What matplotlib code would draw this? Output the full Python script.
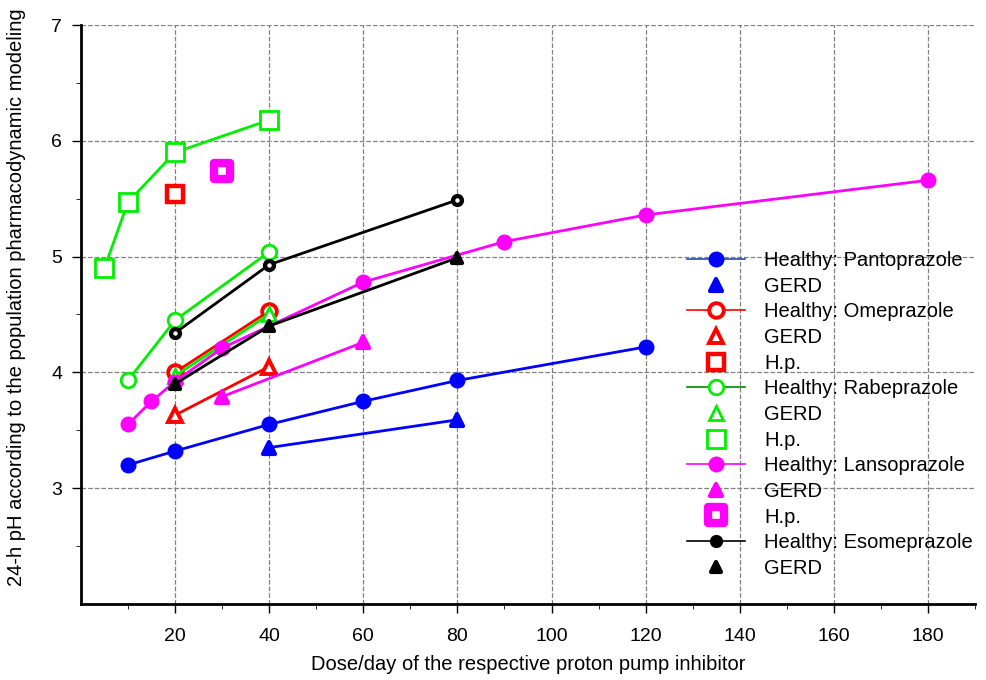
import matplotlib
matplotlib.use('Agg')
import matplotlib.pyplot as plt
from matplotlib.lines import Line2D
from matplotlib.markers import MarkerStyle

plt.rcParams['font.family'] = ['Liberation Sans', 'DejaVu Sans']

# Pantoprazole
panto_x = [10, 20, 40, 60, 80, 120]
panto_y = [3.2, 3.32, 3.55, 3.75, 3.93, 4.22]
panto_gerd_x = [40, 80]
panto_gerd_y = [3.35, 3.59]
# Omeprazole
ome_x = [20, 40]
ome_y = [4.0, 4.53]
ome_gerd_x = [20, 40]
ome_gerd_y = [3.63, 4.05]
ome_hp_x = [20]
ome_hp_y = [5.54]
# Rabeprazole
rabe_x = [10, 20, 40]
rabe_y = [3.93, 4.45, 5.04]
rabe_gerd_x = [20, 40]
rabe_gerd_y = [3.97, 4.5]
rabe_hp_x = [5, 10, 20, 40]
rabe_hp_y = [4.9, 5.47, 5.9, 6.18]
# Lansoprazole
lanso_x = [10, 15, 20, 30, 60, 90, 120, 180]
lanso_y = [3.55, 3.75, 3.92, 4.21, 4.78, 5.13, 5.36, 5.66]
lanso_gerd_x = [30, 60]
lanso_gerd_y = [3.79, 4.26]
lanso_hp_x = [30]
lanso_hp_y = [5.74]
# Esomeprazole
eso_x = [20, 40, 80]
eso_y = [4.34, 4.93, 5.49]
eso_gerd_x = [20, 40, 80]
eso_gerd_y = [3.9, 4.4, 4.99]

labels = ['Healthy: Pantoprazole', 'GERD', 'Healthy: Omeprazole', 'GERD', 'H.p.',
          'Healthy: Rabeprazole', 'GERD', 'H.p.', 'Healthy: Lansoprazole', 'GERD', 'H.p.',
          'Healthy: Esomeprazole', 'GERD']

blue = '#0000ff'
red = '#ff0000'
green = '#00ee00'
mag = '#ff00ff'

tri = MarkerStyle('^', joinstyle='round')
sq = MarkerStyle('s', joinstyle='round')

# marker styles per series (also reused for the legend)
st_panto = dict(color=blue, marker='o', ms=10.5, mfc=blue, mec=blue)
st_panto_g = dict(color=blue, marker=tri, ms=8, mfc=blue, mec=blue, mew=3)
st_ome = dict(color=red, marker='o', ms=10.5, mfc='white', mec=red, mew=2.8)
st_ome_g = dict(color=red, marker='^', ms=10, mfc='white', mec=red, mew=2.8)
st_ome_h = dict(color=red, marker='s', ms=12, mfc='white', mec=red, mew=3.2)
st_rabe = dict(color=green, marker='o', ms=10.5, mfc='white', mec=green, mew=2)
st_rabe_g = dict(color=green, marker='^', ms=10, mfc='white', mec=green, mew=2)
st_rabe_h = dict(color=green, marker='s', ms=12.5, mfc='white', mec=green, mew=2)
st_lanso = dict(color=mag, marker='o', ms=10.5, mfc=mag, mec=mag)
st_lanso_g = dict(color=mag, marker=tri, ms=8, mfc=mag, mec=mag, mew=3)
st_lanso_h = dict(color=mag, marker=sq, ms=11, mfc='white', mec=mag, mew=6)
st_eso = dict(color='black', marker='o', ms=8.5, mfc='black', mec='black')
st_eso_g = dict(color='black', marker=tri, ms=7.5, mfc='black', mec='black', mew=3)

fig = plt.figure(figsize=(9.86, 6.8), dpi=100)
ax = fig.add_axes([0.082, 0.112, 0.907, 0.851])

lw = 2
ax.plot(panto_x, panto_y, lw=lw, zorder=3, **st_panto)
ax.plot(panto_gerd_x, panto_gerd_y, lw=lw, zorder=3, **st_panto_g)
ax.plot(ome_x, ome_y, lw=lw, zorder=3, **st_ome)
ax.plot(ome_gerd_x, ome_gerd_y, lw=lw, zorder=3, **st_ome_g)
ax.plot(ome_hp_x, ome_hp_y, ls='none', zorder=3, **st_ome_h)
ax.plot(rabe_x, rabe_y, lw=lw, zorder=3, **st_rabe)
ax.plot(rabe_gerd_x, rabe_gerd_y, lw=lw, zorder=3, **st_rabe_g)
ax.plot(rabe_hp_x, rabe_hp_y, lw=lw, zorder=3, **st_rabe_h)
ax.plot(lanso_x, lanso_y, lw=lw, zorder=3, **st_lanso)
ax.plot(lanso_gerd_x, lanso_gerd_y, lw=lw, zorder=3, **st_lanso_g)
ax.plot(lanso_hp_x, lanso_hp_y, ls='none', zorder=3, **st_lanso_h)
ax.plot(eso_x, eso_y, lw=lw, zorder=3, **st_eso)
ax.plot(eso_x, eso_y, ls='none', marker='o', ms=2.2, mfc='white', mec='white', zorder=4)
ax.plot(eso_gerd_x, eso_gerd_y, lw=lw, zorder=3, **st_eso_g)

ax.set_xlim(0, 190)
ax.set_ylim(2, 7)
ax.set_xticks(range(20, 181, 20))
ax.set_xticks(range(10, 191, 20), minor=True)
ax.set_yticks([3, 4, 5, 6, 7])
ax.set_yticks([2.5, 3.5, 4.5, 5.5, 6.5], minor=True)
ax.grid(True, which='major', ls='--', color='#808080', lw=0.9)
ax.set_axisbelow(True)
for s in ['top', 'right']:
    ax.spines[s].set_visible(False)
ax.spines['left'].set_linewidth(2)
ax.spines['bottom'].set_linewidth(2)
ax.tick_params(labelsize=14, width=1, length=6.5)
ax.tick_params(axis='x', pad=11)
ax.tick_params(axis='y', pad=7)
ax.tick_params(which='minor', length=3.5)
ax.set_xlabel('Dose/day of the respective proton pump inhibitor', fontsize=14.5, labelpad=7)
ax.set_ylabel('24-h pH according to the population pharmacodynamic modeling', fontsize=14.5)
ax.yaxis.set_label_coords(-0.0615, 0.53)

legend_styles = [st_panto, st_panto_g, st_ome, st_ome_g, st_ome_h, st_rabe, st_rabe_g,
                 st_rabe_h, st_lanso, st_lanso_g, st_lanso_h, st_eso, st_eso_g]
line_colors = {0: '#1f4e9e', 2: red, 5: '#008800', 8: mag, 11: 'black'}
handles = []
for i, st in enumerate(legend_styles):
    kw = dict(st)
    if i in line_colors:
        kw['color'] = line_colors[i]
        handles.append(Line2D([], [], lw=1.2, **kw))
    else:
        handles.append(Line2D([], [], ls='none', **kw))
ax.legend(handles, labels, loc='upper left', bbox_to_anchor=(0.666, 0.627), frameon=False,
          fontsize=14.5, handlelength=2.9, labelspacing=0.33, handletextpad=0.95, borderpad=0)

fig.savefig('out.png', dpi=100)
